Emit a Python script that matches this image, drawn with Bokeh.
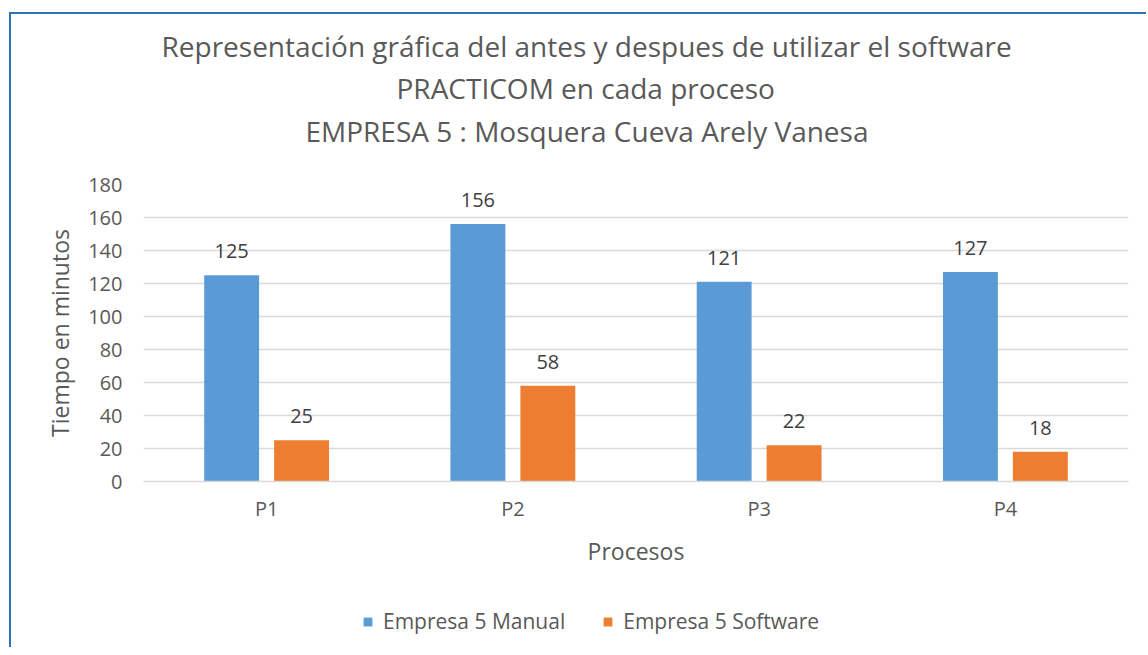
from bokeh.plotting import figure
from bokeh.layouts import column
from bokeh.models import (ColumnDataSource, Range1d, FixedTicker, LabelSet, Legend, LegendItem, Title)
from bokeh.core.properties import value
from bokeh.transform import dodge
from bokeh.embed import file_html
from bokeh.resources import INLINE

categories = ["P1", "P2", "P3", "P4"]
manual = [125, 156, 121, 127]
software = [25, 58, 22, 18]
series_names = ["Empresa 5 Manual", "Empresa 5 Software"]
y_ticks = [0, 20, 40, 60, 80, 100, 120, 140, 160, 180]
title_lines = ["Representación gráfica del antes y despues de utilizar el software",
               "PRACTICOM en cada proceso",
               "EMPRESA 5 : Mosquera Cueva Arely Vanesa"]
title_offsets = [18, 253, 162]

FONT = "Open Sans"
TXT = "#595959"
BLUE = "#5B9BD5"
ORANGE = "#ED7D31"

OX, OY = 11, 14          # wrapper margin + border
W = 1135
H1 = 576                  # main chart
H2 = 57                   # legend strip

src = ColumnDataSource(dict(cat=categories, manual=manual, software=software,
                            manual_lbl=[str(v) for v in manual],
                            software_lbl=[str(v) for v in software]))

p = figure(x_range=categories, y_range=Range1d(0, 180), width=W, height=H1,
           output_backend="svg", toolbar_location=None,
           min_border_left=143 - OX, min_border_right=W - (1128 - OX),
           min_border_top=184 - OY, min_border_bottom=H1 - (481 - OY))
p.outline_line_color = None
p.background_fill_color = "white"
p.border_fill_color = "white"

p.vbar(x=dodge("cat", -0.142, range=p.x_range), top="manual", width=0.223, source=src,
       fill_color=BLUE, line_color=None)
p.vbar(x=dodge("cat", 0.142, range=p.x_range), top="software", width=0.223, source=src,
       fill_color=ORANGE, line_color=None)

for col, off in (("manual", -0.142), ("software", 0.142)):
    p.add_layout(LabelSet(x=dodge("cat", off, range=p.x_range), y=col, text=col + "_lbl", source=src,
                          text_align="center", text_baseline="alphabetic", y_offset=17,
                          text_font=value(FONT), text_font_size=value("20px"),
                          text_color="#404040"))

# axes
p.yaxis.ticker = FixedTicker(ticks=y_ticks)
p.yaxis.axis_line_color = None
p.yaxis.major_tick_line_color = None
p.yaxis.minor_tick_line_color = None
p.yaxis.major_label_standoff = 15
p.yaxis.major_label_text_font = FONT
p.yaxis.major_label_text_font_size = "20px"
p.yaxis.major_label_text_color = TXT
p.yaxis.axis_label = "Tiempo en minutos"
p.yaxis.axis_label_text_font = FONT
p.yaxis.axis_label_text_font_size = "23px"
p.yaxis.axis_label_text_font_style = "normal"
p.yaxis.axis_label_text_color = TXT
p.yaxis.axis_label_standoff = 9

p.xaxis.axis_line_color = "#D9D9D9"
p.xaxis.axis_line_width = 1.5
p.xaxis.major_tick_line_color = None
p.xaxis.minor_tick_line_color = None
p.xaxis.major_label_standoff = 7
p.xaxis.major_label_text_font = FONT
p.xaxis.major_label_text_font_size = "20px"
p.xaxis.major_label_text_color = TXT
p.xaxis.axis_label = "Procesos"
p.xaxis.axis_label_text_font = FONT
p.xaxis.axis_label_text_font_size = "23px"
p.xaxis.axis_label_text_font_style = "normal"
p.xaxis.axis_label_text_color = TXT
p.xaxis.axis_label_standoff = 10

p.xgrid.grid_line_color = None
p.ygrid.grid_line_color = "#D9D9D9"
p.ygrid.grid_line_width = 1.5

# spacer between the frame and the titles
p.add_layout(Title(text="\u00a0", standoff=29, text_font_size="2px"), "above")
# titles (added bottom line first so it sits nearest the plot)
standoffs = [0, 4, 3]
for t, off, so in reversed(list(zip(title_lines, title_offsets, standoffs))):
    p.add_layout(Title(text=t, align="left", offset=off, text_font=FONT, text_font_size="28px",
                       text_font_style="normal", text_color=TXT, standoff=so), "above")

# legend strip (zero-width bars outside its visible y range, used only for the legend swatches)
pl = figure(width=W, height=H2, x_range=p.x_range, y_range=Range1d(-20, -10),
            output_backend="svg", toolbar_location=None,
            x_axis_location=None, y_axis_location=None,
            min_border_left=0, min_border_right=0, min_border_top=0, min_border_bottom=0)
pl.outline_line_color = None
pl.xgrid.grid_line_color = None
pl.ygrid.grid_line_color = None
pl.background_fill_color = "white"
pl.border_fill_color = "white"
l1 = pl.vbar(x="cat", top="manual", width=0, source=src, fill_color=BLUE, line_color=None)
l2 = pl.vbar(x="cat", top="software", width=0, source=src, fill_color=ORANGE, line_color=None)
legend = Legend(items=[LegendItem(label=series_names[0], renderers=[l1]),
                       LegendItem(label=series_names[1], renderers=[l2])],
                orientation="horizontal", location=(219, 12), margin=0, padding=4,
                label_text_font=FONT, label_text_font_size="21px", label_text_color=TXT,
                glyph_width=11, glyph_height=11, spacing=37, label_standoff=10,
                border_line_color=None, background_fill_alpha=0)
pl.add_layout(legend, "center")

layout = column(p, pl, spacing=0,
                styles={"margin-left": "9px", "margin-top": "12px",
                        "border-left": "2px solid #2E75B6", "border-top": "2px solid #2E75B6"})

open("out.html", "w").write(file_html(layout, INLINE))
